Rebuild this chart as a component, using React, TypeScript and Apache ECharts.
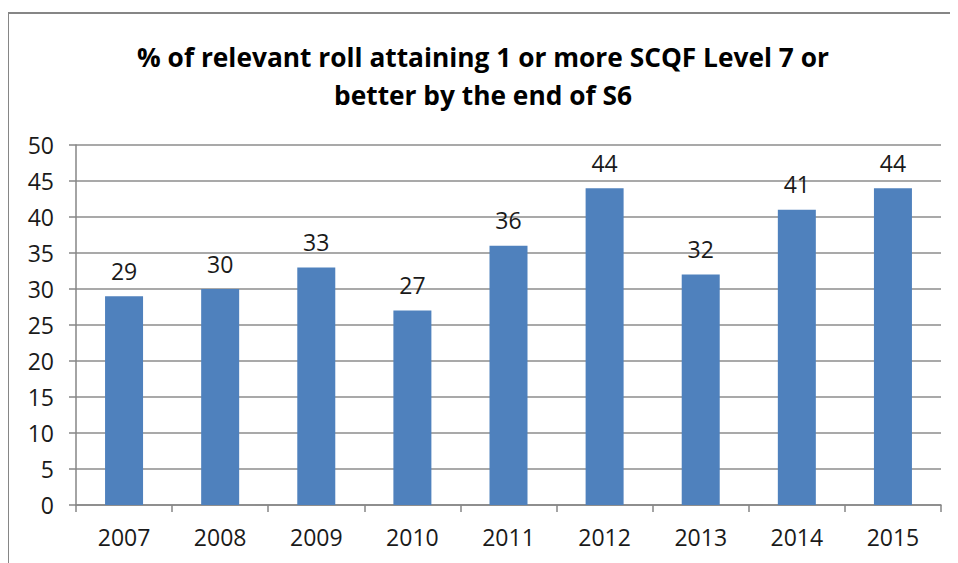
import React, { useEffect, useRef } from "react";
import * as echarts from "echarts";

const categories = ["2007", "2008", "2009", "2010", "2011", "2012", "2013", "2014", "2015"];
const values = [29, 30, 33, 27, 36, 44, 32, 41, 44];
const titleLines = ["% of relevant roll attaining 1 or more SCQF Level 7 or", "better by the end of S6"];

const FONT = "'Open Sans', 'Noto Sans', sans-serif";

export default function App() {
  const ref = useRef<HTMLDivElement>(null);
  useEffect(() => {
    const chart = echarts.init(ref.current!, null, { renderer: "svg" });
    chart.setOption({
      animation: false,
      backgroundColor: "#ffffff",
      title: {
        text: titleLines.join("\n"),
        left: "center",
        top: 25,
        textStyle: {
          fontFamily: FONT,
          fontWeight: "bold",
          fontSize: 26.3,
          lineHeight: 38,
          color: "#000000",
        },
      },
      graphic: [
        {
          type: "rect",
          shape: { x: 0, y: 5, width: 1000, height: 600 },
          style: { fill: "none", stroke: "#868686", lineWidth: 2 },
          silent: true,
        },
      ],
      grid: { left: 68, top: 137, right: 17, bottom: 58, containLabel: false },
      xAxis: {
        type: "category",
        data: categories,
        axisLine: { show: true, lineStyle: { color: "#868686", width: 1.5 } },
        axisTick: { show: true, alignWithLabel: false, length: 7, lineStyle: { color: "#868686", width: 1.5 } },
        axisLabel: { margin: 20, fontFamily: FONT, fontSize: 23, color: "#1a1a1a" },
        splitLine: { show: false },
      },
      yAxis: {
        type: "value",
        min: 0,
        max: 50,
        interval: 5,
        axisLine: { show: true, lineStyle: { color: "#868686", width: 1.5 } },
        axisTick: { show: true, length: 7, lineStyle: { color: "#868686", width: 1.5 } },
        axisLabel: { margin: 22, fontFamily: FONT, fontSize: 23, color: "#1a1a1a" },
        splitLine: { show: true, lineStyle: { color: "#8c8c8c", width: 1.5 } },
      },
      series: [
        {
          type: "bar",
          data: values,
          barWidth: 38,
          itemStyle: { color: "#4f81bd" },
          label: {
            show: true,
            position: "top",
            distance: 14,
            fontFamily: FONT,
            fontSize: 23,
            color: "#1a1a1a",
          },
        },
      ],
    });
    return () => chart.dispose();
  }, []);
  return <div ref={ref} style={{ width: 950, height: 555 }} />;
}
